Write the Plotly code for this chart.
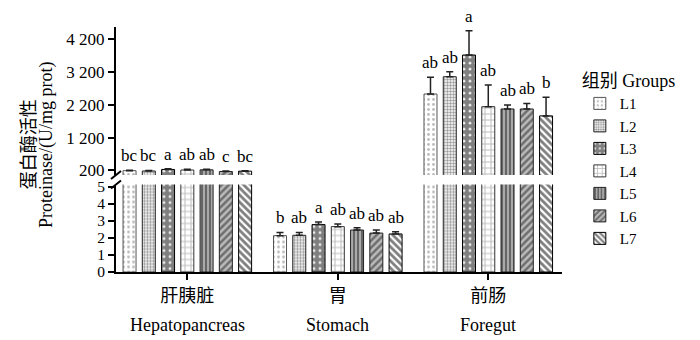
import plotly.graph_objects as go

groups = ["L1", "L2", "L3", "L4", "L5", "L6", "L7"]
tissues_cn = ["肝胰脏", "胃", "前肠"]
tissues_en = ["Hepatopancreas", "Stomach", "Foregut"]

hep_mean = [195, 185, 232, 215, 220, 170, 180]
hep_err = [15, 15, 20, 20, 20, 12, 15]
hep_sig = ["bc", "bc", "a", "ab", "ab", "c", "bc"]

sto_mean = [2.14, 2.16, 2.79, 2.67, 2.47, 2.29, 2.24]
sto_err = [0.19, 0.17, 0.15, 0.15, 0.14, 0.18, 0.13]
sto_sig = ["b", "ab", "a", "ab", "ab", "ab", "ab"]

fg_mean = [2525, 3050, 3710, 2140, 2070, 2070, 1860]
fg_err = [510, 150, 740, 660, 120, 170, 570]
fg_sig = ["ab", "ab", "a", "ab", "ab", "ab", "b"]

upper_ticks = [200, 1200, 2200, 3200, 4200]
upper_ticktext = ["200", "1 200", "2 200", "3 200", "4 200"]
lower_ticks = [0, 1, 2, 3, 4, 5]

# styles
patterns = [
    dict(shape=".", fgcolor="#777", bgcolor="white", size=5, solidity=0.25),
    dict(shape=".", fgcolor="#333", bgcolor="white", size=3, solidity=0.5),
    dict(shape=".", fgcolor="#000", bgcolor="white", size=6, solidity=0.8),
    dict(shape="+", fgcolor="#777", bgcolor="white", size=6, solidity=0.3),
    dict(shape="|", fgcolor="#222", bgcolor="#aaa", size=4, solidity=0.5),
    dict(shape="/", fgcolor="#222", bgcolor="#bbb", size=5, solidity=0.5),
    dict(shape="\\", fgcolor="#000", bgcolor="white", size=5, solidity=0.55),
]
outline = ["#555", "#222", "#000", "#333", "#222", "#222", "#000"]

FONT = "Liberation Serif, Noto Sans CJK SC"
step = 0.128
bw = 0.0864

fig = go.Figure()
n = len(groups)
for i, g in enumerate(groups):
    xs = [t + (i - (n - 1) / 2) * step for t in range(len(tissues_cn))]
    ys = [hep_mean[i], sto_mean[i], fg_mean[i]]
    es = [hep_err[i], sto_err[i], fg_err[i]]
    common = dict(
        x=xs, y=ys, width=bw, name=g, legendgroup=g,
        marker=dict(color=patterns[i]["bgcolor"], pattern=patterns[i],
                    line=dict(color=outline[i], width=1)),
        error_y=dict(type="data", array=es, arrayminus=[0] * 3, symmetric=False,
                     color="#222", thickness=1.5, width=3.5),
    )
    fig.add_trace(go.Bar(xaxis="x", yaxis="y", showlegend=True, **common))
    fig.add_trace(go.Bar(xaxis="x2", yaxis="y2", showlegend=False, **common))

    # significance letters
    lab = dict(showarrow=False, yanchor="bottom", xanchor="center", yshift=3,
               font=dict(family=FONT, size=17, color="black"))
    fig.add_annotation(x=xs[1], y=sto_mean[i] + sto_err[i], xref="x", yref="y",
                       text=sto_sig[i], **lab)
    fig.add_annotation(x=xs[0], y=hep_mean[i] + hep_err[i], xref="x2", yref="y2",
                       text=hep_sig[i], **lab)
    fig.add_annotation(x=xs[2], y=fg_mean[i] + fg_err[i], xref="x2", yref="y2",
                       text=fg_sig[i], **lab)

H = 245.0
lower_top = 87.5 / H
upper_bot = (272 - 175) / H

axis_common = dict(showline=True, linecolor="black", linewidth=2, ticks="outside",
                   ticklen=6, tickwidth=2, tickcolor="black", showgrid=False,
                   zeroline=False)

fig.update_layout(
    width=700, height=340,
    margin=dict(l=116, r=138, t=27, b=68),
    paper_bgcolor="white", plot_bgcolor="white",
    barmode="overlay",
    font=dict(family=FONT, size=18, color="black"),
    xaxis=dict(domain=[0, 1], anchor="y", range=[-0.474, 2.49],
               tickvals=[0, 1, 2], ticktext=tissues_cn,
               tickfont=dict(family=FONT, size=18, color="black"), **axis_common),
    xaxis2=dict(domain=[0, 1], anchor="y2", range=[-0.474, 2.49], matches="x",
                visible=False),
    yaxis=dict(domain=[0, lower_top], anchor="x", range=[0, 5.15],
               tickvals=lower_ticks,
               tickfont=dict(family=FONT, size=15.5, color="black"), **axis_common),
    yaxis2=dict(domain=[upper_bot, 1], anchor="x2", range=[63, 4562],
                tickvals=upper_ticks, ticktext=upper_ticktext,
                tickfont=dict(family=FONT, size=17, color="black"), **axis_common),
    legend=dict(x=1.04, xanchor="left", y=0.85, yanchor="top",
                font=dict(family=FONT, size=15, color="black"),
                title=dict(text="组别 Groups", font=dict(family=FONT, size=18)),
                tracegroupgap=0, itemwidth=30, bgcolor="rgba(0,0,0,0)"),
)

# English category labels
for t, name in enumerate(tissues_en):
    fig.add_annotation(x=t, y=-0.216, xref="x", yref="paper", text=name,
                       showarrow=False, yanchor="middle",
                       font=dict(family=FONT, size=18, color="black"))

# y-axis titles
fig.add_annotation(x=-0.196, y=0.52, xref="paper", yref="paper", text="蛋白酶活性",
                   textangle=-90, showarrow=False, xanchor="center", yanchor="middle",
                   font=dict(family=FONT, size=18, color="black"))
fig.add_annotation(x=-0.156, y=0.52, xref="paper", yref="paper",
                   text="Proteinase/(U/mg prot)",
                   textangle=-90, showarrow=False, xanchor="center", yanchor="middle",
                   font=dict(family=FONT, size=18, color="black"))

# axis break marks
for yref_dom in (upper_bot, lower_top):
    fig.add_shape(type="line", xref="paper", yref="paper",
                  xsizemode="pixel", xanchor=0, x0=-5, x1=5,
                  ysizemode="pixel", yanchor=yref_dom, y0=-4, y1=4,
                  line=dict(color="black", width=2))

fig.write_html("out.html")
